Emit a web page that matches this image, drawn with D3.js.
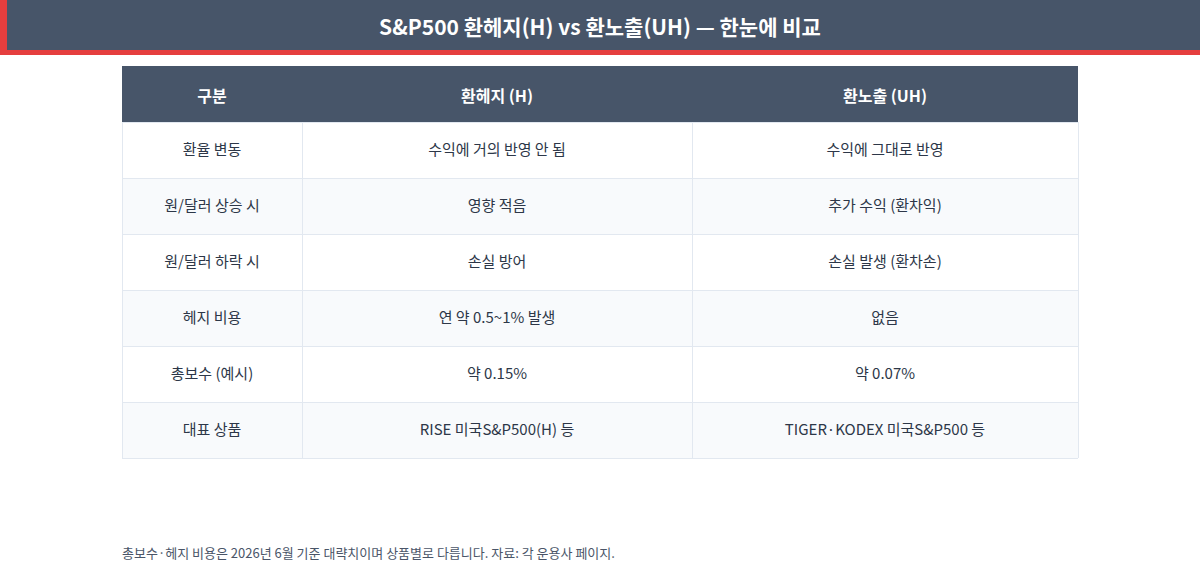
<!DOCTYPE html>
<html><head><meta charset="utf-8">
<script src="https://cdn.jsdelivr.net/npm/d3@7"></script>
<style>body{margin:0;background:#fff;font-family:"Noto Sans CJK KR","Noto Sans",sans-serif;}</style>
</head><body><div id="chart"></div>
<script>
const title = "S&P500 환헤지(H) vs 환노출(UH) — 한눈에 비교";
const columns = ["구분", "환헤지 (H)", "환노출 (UH)"];
const rowLabels = ["환율 변동", "원/달러 상승 시", "원/달러 하락 시", "헤지 비용", "총보수 (예시)", "대표 상품"];
const hedged = ["수익에 거의 반영 안 됨", "영향 적음", "손실 방어", "연 약 0.5~1% 발생", "약 0.15%", "RISE 미국S&P500(H) 등"];
const unhedged = ["수익에 그대로 반영", "추가 수익 (환차익)", "손실 발생 (환차손)", "없음", "약 0.07%", "TIGER·KODEX 미국S&P500 등"];
const footnote = "총보수·헤지 비용은 2026년 6월 기준 대략치이며 상품별로 다릅니다. 자료: 각 운용사 페이지.";

const W = 1200, H = 570;
const svg = d3.select("#chart").append("svg").attr("width", W).attr("height", H);

// title band
svg.append("rect").attr("x", 0).attr("y", 0).attr("width", W).attr("height", 55).attr("fill", "#e53e3e");
svg.append("rect").attr("x", 7).attr("y", 0).attr("width", W - 7).attr("height", 50).attr("fill", "#475569");
svg.append("text").attr("x", W / 2).attr("y", 29).attr("text-anchor", "middle").attr("dominant-baseline", "middle")
    .attr("fill", "#fff").attr("font-size", 21).attr("font-weight", "bold").text(title);

const colEdges = [122, 302, 692, 1078];
const x = i => colEdges[i], cx = i => (colEdges[i] + colEdges[i + 1]) / 2;
const y = d3.scaleLinear().domain([0, rowLabels.length]).range([122, 458]);

// header
svg.append("rect").attr("x", 122).attr("y", 66).attr("width", 956).attr("height", 56).attr("fill", "#475569");
svg.selectAll(".hd").data(columns).enter().append("text")
    .attr("x", (d, i) => cx(i)).attr("y", 98).attr("text-anchor", "middle").attr("dominant-baseline", "middle")
    .attr("fill", "#fff").attr("font-size", 16).attr("font-weight", "bold").text(d => d);

const rows = rowLabels.map((d, i) => [d, hedged[i], unhedged[i]]);
const g = svg.selectAll(".row").data(rows).enter().append("g");
g.append("rect").attr("x", 122).attr("y", (d, i) => y(i)).attr("width", 956).attr("height", y(1) - y(0))
    .attr("fill", (d, i) => i % 2 ? "#f8fafc" : "#fff");
g.selectAll("text").data((d, i) => d.map(v => ({v, i}))).enter().append("text")
    .attr("x", (d, j) => cx(j)).attr("y", d => y(d.i + 0.5) + 1)
    .attr("text-anchor", "middle").attr("dominant-baseline", "middle")
    .attr("fill", "#2d3748").attr("font-size", 15).text(d => d.v);

// grid lines
const grid = svg.append("g").attr("stroke", "#e2e8f0").attr("stroke-width", 1);
d3.range(rowLabels.length + 1).forEach(i => {
    grid.append("line").attr("x1", 122).attr("x2", 1078).attr("y1", y(i) + 0.5).attr("y2", y(i) + 0.5);
});
colEdges.forEach(e => {
    grid.append("line").attr("x1", e + 0.5).attr("x2", e + 0.5).attr("y1", 122).attr("y2", 458);
});

svg.append("text").attr("x", 122).attr("y", 558).attr("fill", "#4a5568").attr("font-size", 13).text(footnote);
</script></body></html>
